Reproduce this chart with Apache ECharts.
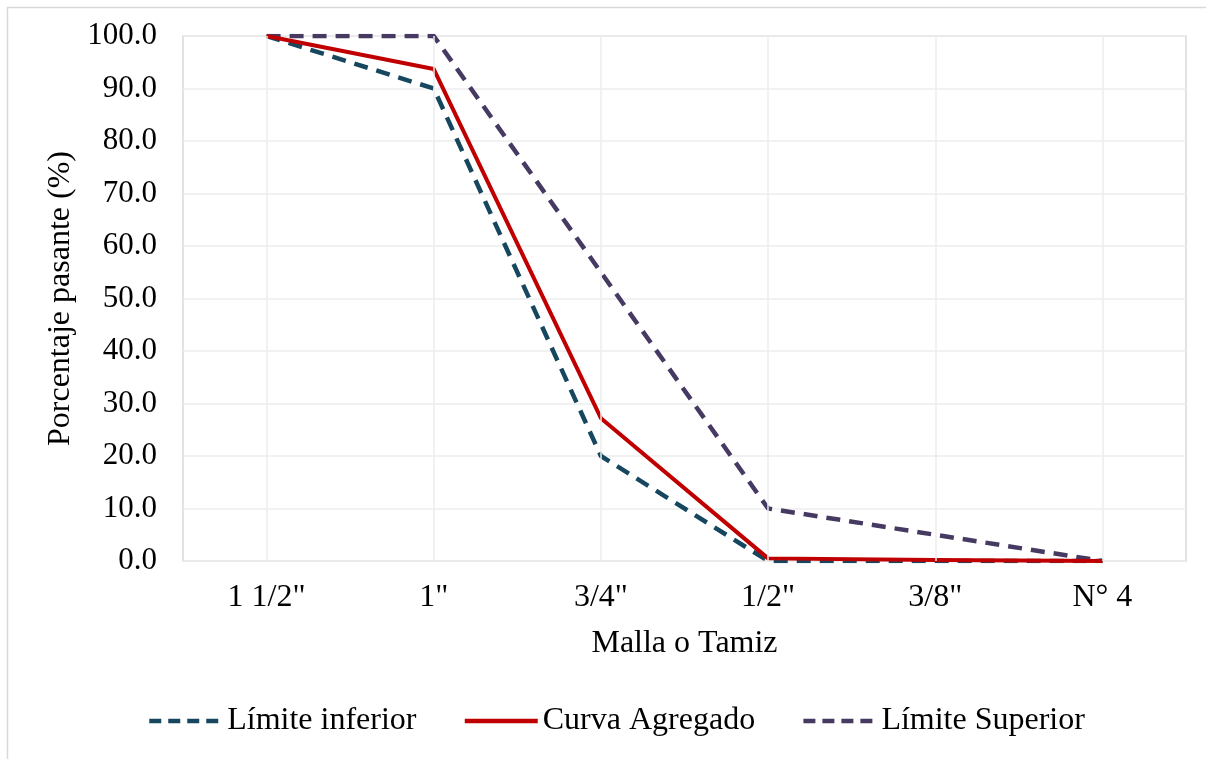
<!DOCTYPE html>
<html>
<head>
<meta charset="utf-8">
<script src="https://cdn.jsdelivr.net/npm/echarts@6/dist/echarts.min.js"></script>
<style>
html,body{margin:0;padding:0;background:#fff;}
#chart{width:1206px;height:759px;}
</style>
</head>
<body>
<div id="chart"></div>
<script>
const categories = ['1 1/2"', '1"', '3/4"', '1/2"', '3/8"', 'N° 4'];
const limiteInferior = [100, 90, 20, 0, 0, 0];
const curvaAgregado = [100, 93.7, 27.2, 0.5, 0.2, 0];
const limiteSuperior = [100, 100, 55, 10, 5, 0];
const seriesNames = ['Límite inferior', 'Curva Agregado', 'Límite Superior'];

const FONT = '"Liberation Serif", "Times New Roman", serif';
const FS = 32;

const chart = echarts.init(document.getElementById('chart'), null, {renderer: 'canvas'});
chart.setOption({
  animation: false,
  backgroundColor: '#ffffff',
  graphic: [{
    type: 'rect', left: 5, top: 5, z: -10,
    shape: {width: 1230, height: 790},
    style: {fill: 'none', stroke: '#d9d9d9', lineWidth: 1.5}
  }],
  grid: {left: 183, top: 36, right: 20, bottom: 198, show: true, borderColor: '#d9d9d9', borderWidth: 1.5, backgroundColor: 'transparent'},
  legend: {
    data: [
      {name: seriesNames[0], lineStyle: {width: 4.5, type: [12, 7]}},
      {name: seriesNames[1], lineStyle: {width: 4.5}},
      {name: seriesNames[2], lineStyle: {width: 4.5, type: [12, 7]}}
    ],
    bottom: 17,
    left: 142,
    itemWidth: 73,
    itemHeight: 14,
    itemGap: 46,
    itemStyle: {opacity: 0},
    textStyle: {fontFamily: FONT, fontSize: FS, color: '#000'}
  },
  xAxis: {
    type: 'category',
    data: categories,
    boundaryGap: true,
    name: 'Malla o Tamiz',
    nameLocation: 'middle',
    nameGap: 67,
    nameTextStyle: {fontFamily: FONT, fontSize: FS, color: '#000'},
    axisLine: {show: false},
    axisTick: {show: false},
    splitLine: {show: false},
    axisLabel: {fontFamily: FONT, fontSize: FS, color: '#000', margin: 21}
  },
  yAxis: {
    type: 'value',
    min: 0, max: 100, interval: 10,
    name: 'Porcentaje pasante (%)',
    nameLocation: 'middle',
    nameGap: 104,
    nameTextStyle: {fontFamily: FONT, fontSize: FS, color: '#000'},
    axisLine: {show: false},
    axisTick: {show: false},
    splitLine: {lineStyle: {color: '#ececec', width: 1.5}},
    axisLabel: {fontFamily: FONT, fontSize: 31, color: '#000', margin: 26, formatter: v => v.toFixed(1)}
  },
  series: [
    {
      name: 'grid-v', type: 'line', data: categories.map(() => null), z: 1, silent: true,
      symbol: 'none',
      markLine: {
        silent: true, symbol: 'none', label: {show: false},
        lineStyle: {color: '#ececec', width: 1.5, type: 'solid'},
        data: categories.map(c => ({xAxis: c}))
      }
    },
    {
      name: seriesNames[0], type: 'line', data: limiteInferior, z: 3,
      symbol: 'none', showSymbol: false,
      lineStyle: {color: '#17475f', width: 4.5, type: [14, 9], join: 'round'},
      itemStyle: {color: '#17475f'}
    },
    {
      name: seriesNames[1], type: 'line', data: curvaAgregado, z: 4,
      symbol: 'none', showSymbol: false,
      lineStyle: {color: '#c00000', width: 4, type: 'solid', join: 'round'},
      itemStyle: {color: '#c00000'}
    },
    {
      name: seriesNames[2], type: 'line', data: limiteSuperior, z: 3,
      symbol: 'none', showSymbol: false,
      lineStyle: {color: '#463a62', width: 4.5, type: [14, 9], join: 'round'},
      itemStyle: {color: '#463a62'}
    }
  ]
});
</script>
</body>
</html>
